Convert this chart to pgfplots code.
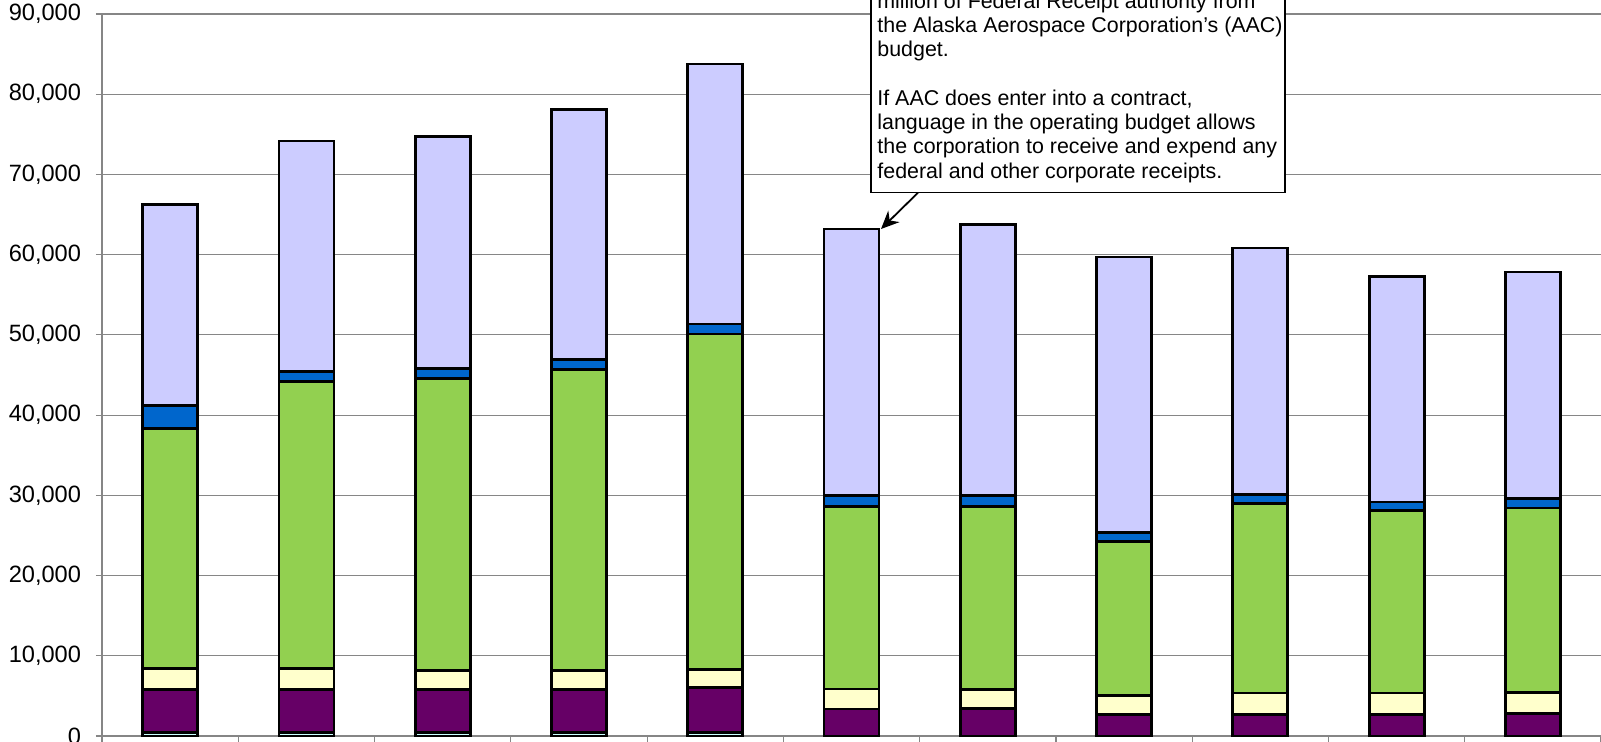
\documentclass[border=0pt]{standalone}
\usepackage{fontspec}
\setmainfont{Liberation Sans}
\usepackage{pgfplots}
\usepackage{pgfplotstable}
\pgfplotsset{compat=1.18}
\usetikzlibrary{arrows.meta}

\definecolor{cCyan}{HTML}{CCFFFF}
\definecolor{cPurple}{HTML}{660066}
\definecolor{cYellow}{HTML}{FFFFCC}
\definecolor{cGreen}{HTML}{92D050}
\definecolor{cBlue}{HTML}{0066CC}
\definecolor{cLav}{HTML}{CCCCFF}
\definecolor{gridgray}{HTML}{868686}

% segment values, bottom to top
\pgfplotstableread{
x  cyan purple yellow green blue lav
0  450  5380   2550   29950 2830 25090
1  450  5380   2570   35830 1250 28680
2  450  5380   2370   36330 1250 28920
3  450  5380   2370   37530 1250 31090
4  450  5580   2300   41770 1250 32420
5  0    3370   2500   22760 1370 33200
6  0    3410   2370   22850 1320 33810
7  0    2690   2390   19180 1140 34320
8  0    2700   2670   23590 1160 30720
9  0    2700   2670   22760 1040 28090
10 0    2780   2620   23030 1160 28250
}\budget

\newcommand{\lblfont}{\fontsize{10.7bp}{12.15bp}\selectfont}
\newcommand{\tickfont}{\fontsize{11.8bp}{13bp}\selectfont}

\begin{document}
\begin{tikzpicture}[x=1bp,y=1bp]
\begin{axis}[
    at={(0,0)}, anchor=south west,
    scale only axis,
    width=749.5bp, height=361bp,
    xmin=-0.5, xmax=10.5,
    ymin=0, ymax=90000,
    ybar stacked, bar width=27.5bp,
    axis lines*=left,
    axis line style={gridgray, line width=0.8bp},
    xtick={-0.5,0.5,...,10.5},
    xticklabels={},
    ytick={0,10000,...,90000},
    scaled y ticks=false,
    tick align=outside,
    major tick length=3bp,
    tick style={gridgray, line width=0.6bp},
    ymajorgrids=true,
    grid style={gridgray, line width=0.6bp},
    ticklabel style={font=\tickfont},
    yticklabel style={xshift=-4bp, /pgf/number format/.cd, fixed, precision=0, 1000 sep={,}, assume math mode=true},
    every axis plot/.append style={draw=black, line width=1.4bp},
]
\addplot[fill=cCyan]   table[x=x, y=cyan]   {\budget};
\addplot[fill=cPurple] table[x=x, y=purple] {\budget};
\addplot[fill=cYellow] table[x=x, y=yellow] {\budget};
\addplot[fill=cGreen]  table[x=x, y=green]  {\budget};
\addplot[fill=cBlue]   table[x=x, y=blue]   {\budget};
\addplot[fill=cLav]    table[x=x, y=lav]    {\budget};
\end{axis}

% callout box
\draw[line width=0.7bp, fill=white] (384.5,271.65) rectangle (591.5,400);
\begin{scope}[every node/.style={anchor=base west, inner sep=0pt, font=\lblfont}]
\node at (387.5,364)    {million of Federal Receipt authority from};
\node at (387.5,351.85) {the Alaska Aerospace Corporation's (AAC)};
\node at (387.5,339.7)  {budget.};
\node at (387.5,315.4)  {If AAC does enter into a contract,};
\node at (387.5,303.25) {language in the operating budget allows};
\node at (387.5,291.1)  {the corporation to receive and expend any};
\node at (387.5,278.95) {federal and other corporate receipts.};
\end{scope}
\draw[line width=0.9bp, -{Stealth[length=9bp, width=8bp]}] (408,271.65) -- (389.5,253.5);

\pgfresetboundingbox
\path[use as bounding box] (-51,-2.5) rectangle (749.5,368);
\end{tikzpicture}
\end{document}
